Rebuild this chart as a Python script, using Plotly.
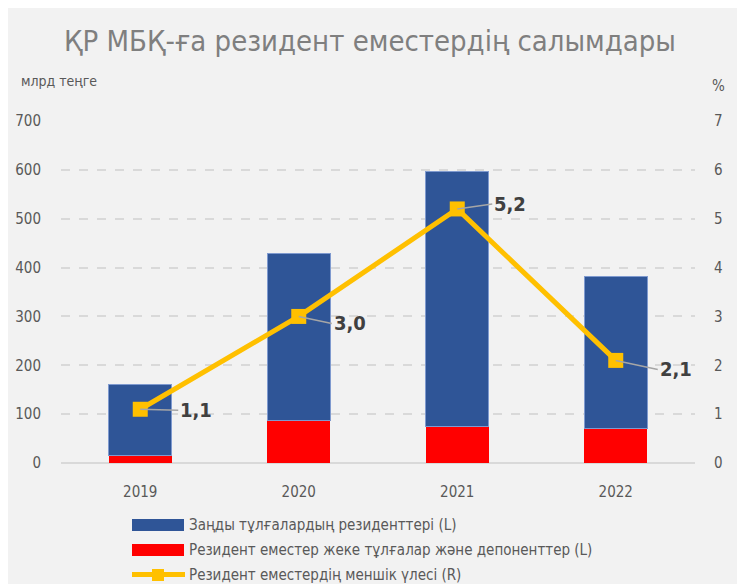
import plotly.graph_objects as go

years = ["2019", "2020", "2021", "2022"]
legal_residents = [145, 343, 521, 311]        # Заңды тұлғалардың резиденттері (L), млрд теңге
individuals_depositors = [15, 86, 75, 70]     # Резидент емес жеке тұлғалар және депоненттер (L)
share_pct = [1.1, 3.0, 5.2, 2.1]              # Резидент еместердің меншік үлесі (R), %
share_labels = ["1,1", "3,0", "5,2", "2,1"]
y_left_ticks = [0, 100, 200, 300, 400, 500, 600, 700]
y_right_ticks = [0, 1, 2, 3, 4, 5, 6, 7]

name_blue = "Заңды тұлғалардың резиденттері (L)"
name_red = "Резидент еместер жеке тұлғалар және депоненттер (L)"
name_line = "Резидент еместердің меншік үлесі (R)"

FONT = "DejaVu Sans Condensed, DejaVu Sans, sans-serif"
GRAY = "#595959"
BLUE = "#2F5597"
RED = "#FF0000"
GOLD = "#FFC000"

W, H = 745, 584
# plot area in screen pixels (page body has an 8px margin)
SL, SR, ST, SB = 61, 695, 121, 463
OFF = 8
L = SL - OFF
T = ST - OFF
R = W - (SR - OFF)
B = H - (SB - OFF)
PW = SR - SL
PH = SB - ST


def px(xs):
    return (xs - SL) / PW


def py(ys):
    return (SB - ys) / PH


fig = go.Figure()
fig.add_trace(go.Bar(x=years, y=individuals_depositors, name=name_red,
                     marker=dict(color=RED, line=dict(width=0)), showlegend=False))
fig.add_trace(go.Bar(x=years, y=legal_residents, name=name_blue,
                     marker=dict(color=BLUE, line=dict(width=1, color="#7F9ACF")), showlegend=False))
fig.add_trace(go.Scatter(x=years, y=share_pct, name=name_line, yaxis="y2",
                         mode="lines+markers",
                         line=dict(color=GOLD, width=5),
                         marker=dict(symbol="square", size=15, color=GOLD),
                         showlegend=False))

shapes = []
# manual legend
shapes.append(dict(type="rect", xref="paper", yref="paper",
                   x0=px(132), x1=px(184), y0=py(531), y1=py(519),
                   fillcolor=BLUE, line=dict(width=0)))
shapes.append(dict(type="rect", xref="paper", yref="paper",
                   x0=px(132), x1=px(184), y0=py(556), y1=py(544),
                   fillcolor=RED, line=dict(width=0)))
shapes.append(dict(type="line", xref="paper", yref="paper",
                   x0=px(132), x1=px(185), y0=py(574.5), y1=py(574.5),
                   line=dict(color=GOLD, width=5)))
shapes.append(dict(type="rect", xref="paper", yref="paper",
                   x0=px(152), x1=px(164), y0=py(581), y1=py(569),
                   fillcolor=GOLD, line=dict(width=0)))

annotations = []
for txt, yc in [(name_blue, 525), (name_red, 550), (name_line, 575)]:
    annotations.append(dict(text=txt, xref="paper", yref="paper", x=px(187), y=py(yc),
                            xanchor="left", yanchor="middle", showarrow=False,
                            font=dict(family=FONT, size=15, color=GRAY)))

# data labels with leader lines (x given as category index)
offsets = [(38, 1), (33, 7), (35, -5), (42, 9)]
for i, (v, lab, (ax, ay)) in enumerate(zip(share_pct, share_labels, offsets)):
    annotations.append(dict(x=i, y=v, xref="x", yref="y2", text="<b>" + lab + "</b>",
                            showarrow=True, arrowhead=0, arrowwidth=1.5, arrowcolor="#A6A6A6",
                            ax=ax, ay=ay, xanchor="left", yanchor="middle",
                            font=dict(family=FONT, size=20, color="#404040")))

# title and axis unit captions
annotations.append(dict(text="ҚР МБҚ-ға резидент еместердің салымдары", xref="paper", yref="paper",
                        x=px(370), y=py(41), xanchor="center", yanchor="middle", showarrow=False,
                        font=dict(family=FONT, size=29, color="#7F7F7F")))
annotations.append(dict(text="млрд теңге", xref="paper", yref="paper",
                        x=px(19), y=py(81), xanchor="left", yanchor="middle", showarrow=False,
                        font=dict(family=FONT, size=14, color=GRAY)))
annotations.append(dict(text="%", xref="paper", yref="paper",
                        x=px(718), y=py(86), xanchor="center", yanchor="middle", showarrow=False,
                        font=dict(family=FONT, size=15, color=GRAY)))

fig.update_layout(
    width=W, height=H,
    margin=dict(l=L, r=R, t=T, b=B, autoexpand=False),
    paper_bgcolor="#F2F2F2",
    plot_bgcolor="#F2F2F2",
    barmode="stack",
    bargap=0.6,
    showlegend=False,
    font=dict(family=FONT, color=GRAY, size=15),
    xaxis=dict(type="category", range=[-0.5, 3.5], showgrid=False, showline=False, ticks="",
               automargin=False,
               tickfont=dict(family=FONT, size=15, color=GRAY), ticklabelstandoff=18),
    yaxis=dict(range=[0, 700], tickvals=y_left_ticks, showgrid=True, gridcolor="#D9D9D9",
               griddash="dash", gridwidth=1.5, zeroline=True, zerolinecolor="#D9D9D9",
               zerolinewidth=2, showline=False, ticks="", automargin=False,
               tickfont=dict(family=FONT, size=15, color=GRAY), ticklabelstandoff=19),
    yaxis2=dict(range=[0, 7], tickvals=y_right_ticks, overlaying="y", side="right",
                showgrid=False, zeroline=False, showline=False, ticks="", automargin=False,
                tickfont=dict(family=FONT, size=15, color=GRAY), ticklabelstandoff=18),
    shapes=shapes,
    annotations=annotations,
)

fig.write_html("out.html")
